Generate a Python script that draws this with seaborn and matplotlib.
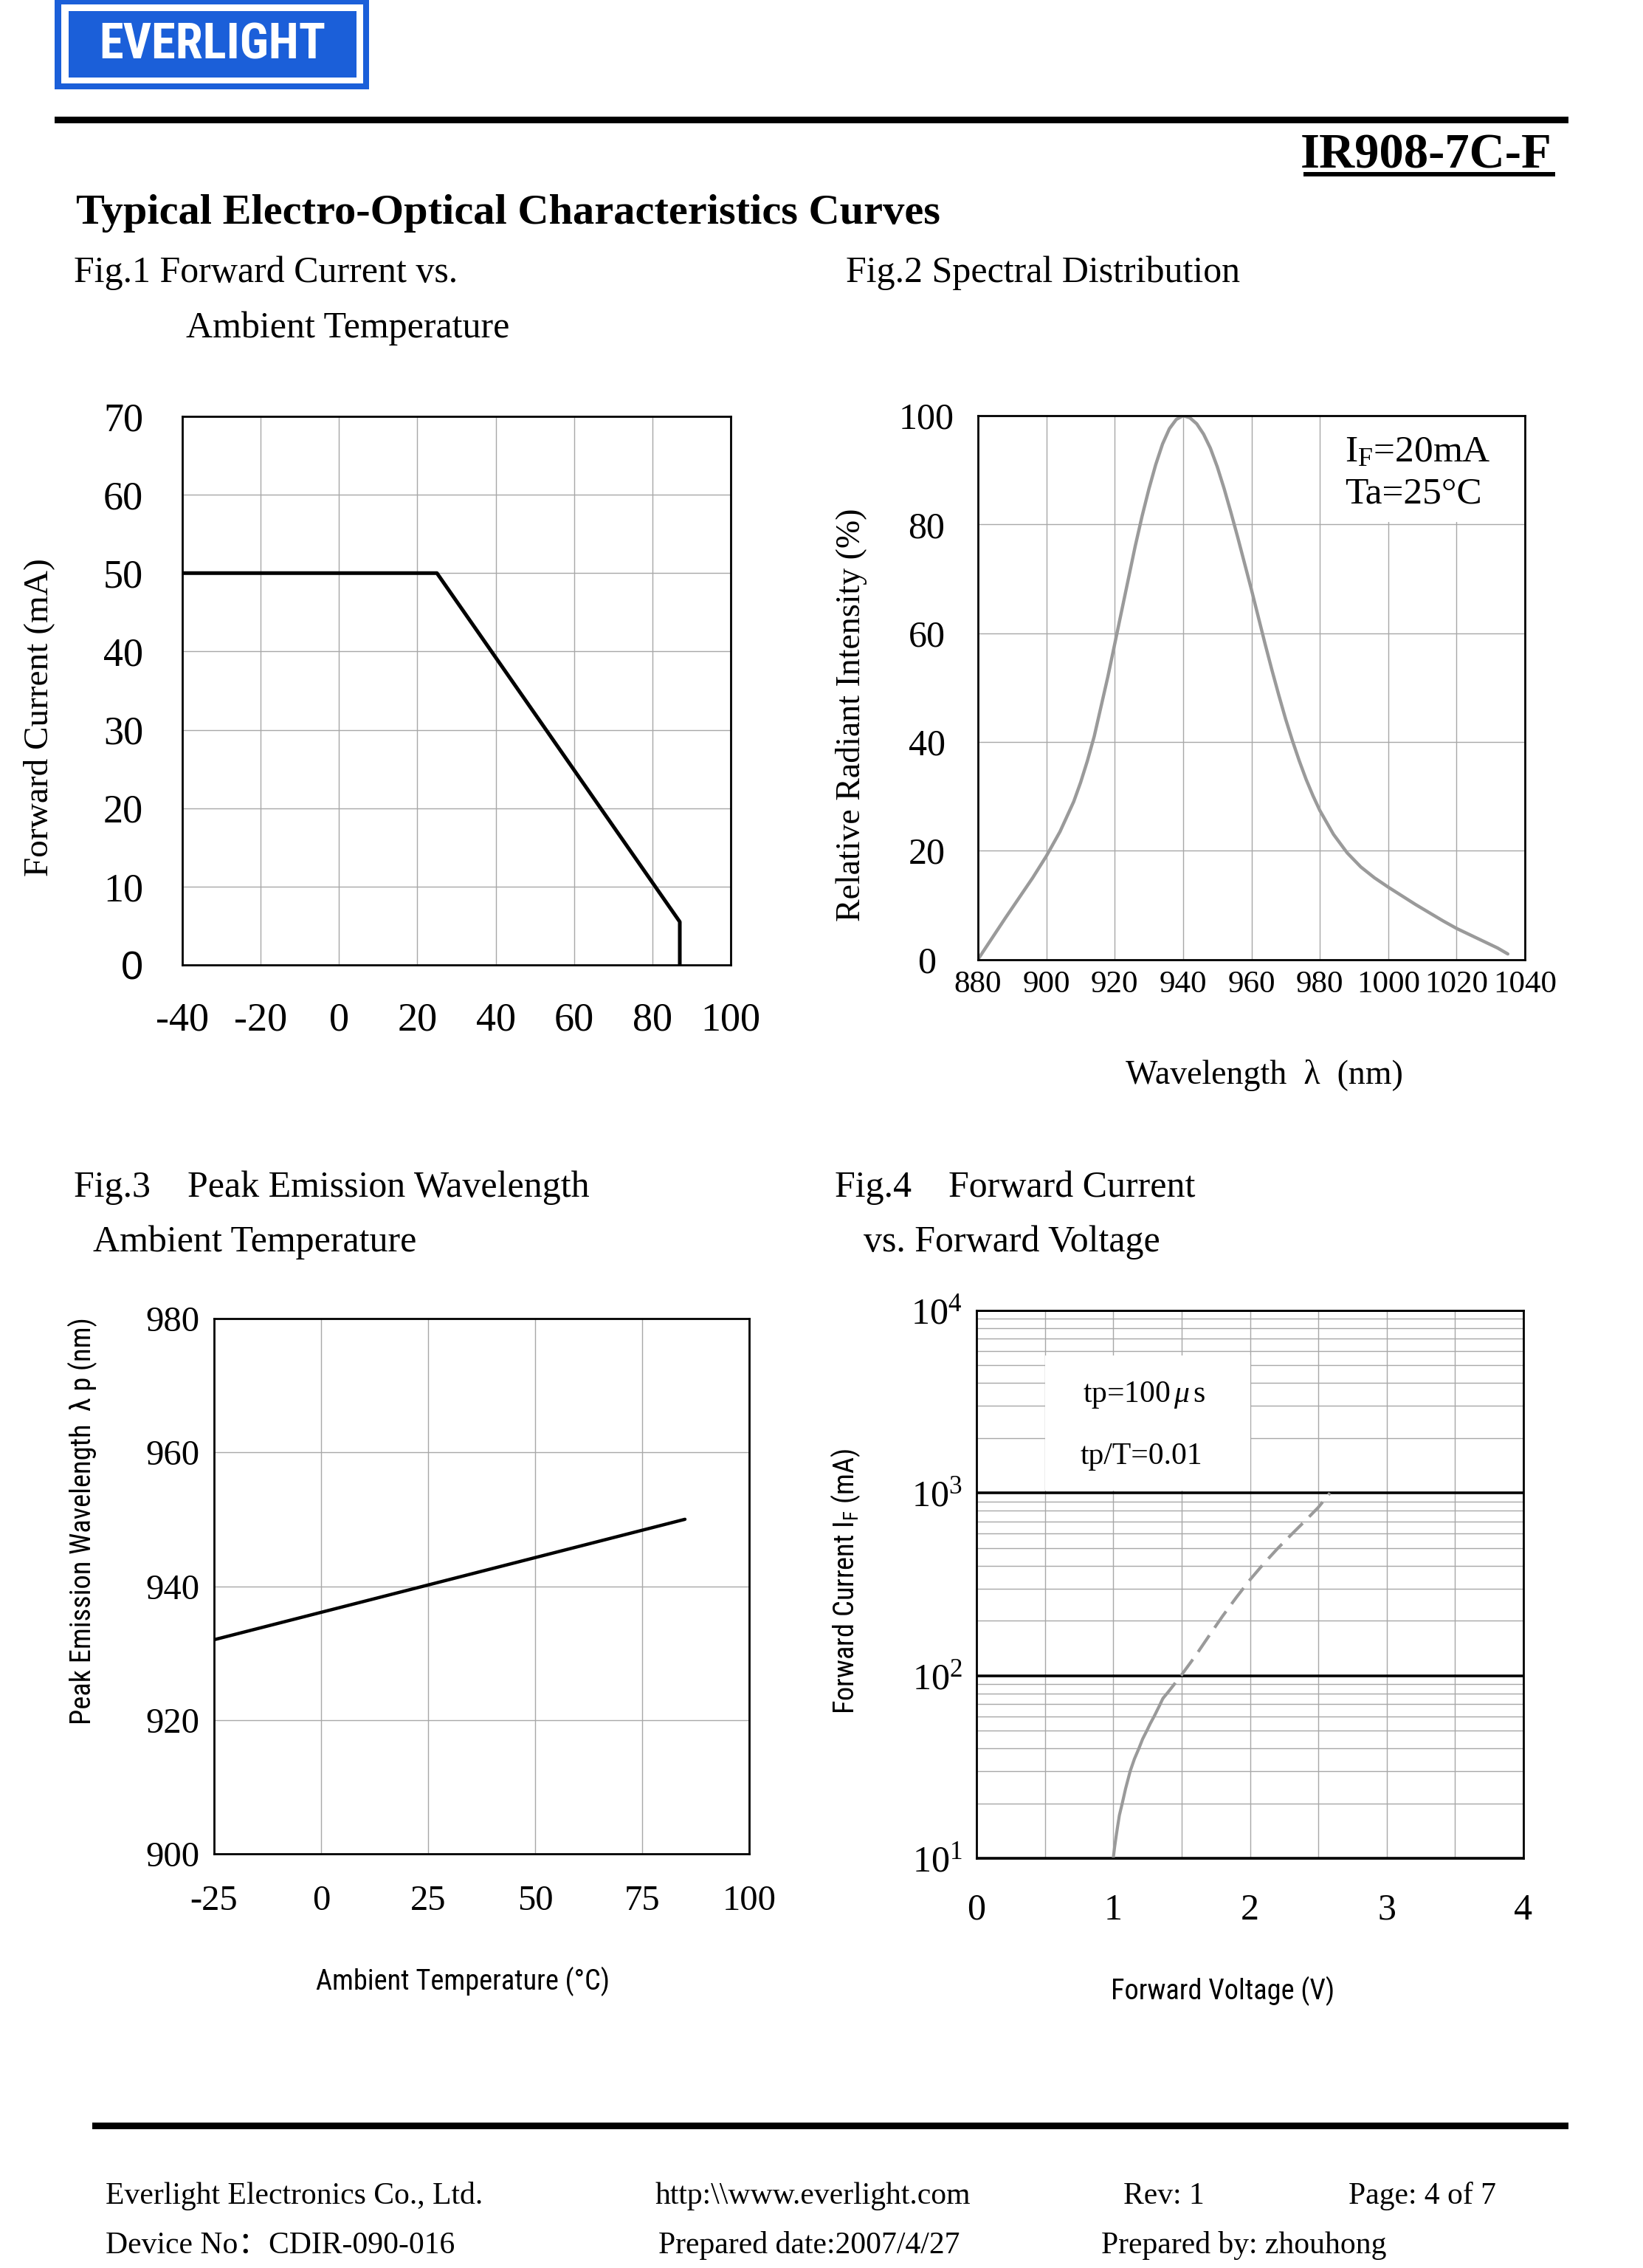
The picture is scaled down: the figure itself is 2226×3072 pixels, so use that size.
import matplotlib
matplotlib.use("Agg")
import matplotlib.pyplot as plt
import matplotlib.font_manager as fm
from matplotlib.patches import Rectangle
from matplotlib.ticker import MultipleLocator, LogLocator, NullFormatter
import seaborn as sns

# Fig.1 forward current derating vs ambient temperature
FIG1_TEMP = [-40, 25, 87, 87]
FIG1_CURRENT = [50, 50, 5.5, 0]

# Fig.2 spectral distribution (IF=20mA, Ta=25C)
FIG2_WAVELENGTH = [880, 884, 888, 892, 896, 900, 904, 908, 910, 912, 914, 916, 918,
                   920, 922, 924, 926, 928, 930, 932, 934, 936, 938, 940, 942, 944,
                   946, 948, 950, 952, 954, 956, 958, 960, 962, 964, 966, 968, 970,
                   972, 974, 976, 978, 980, 984, 988, 992, 996, 1000, 1004, 1008,
                   1012, 1016, 1020, 1024, 1028, 1032, 1035]
FIG2_INTENSITY = [0, 3.8, 7.6, 11.3, 15, 19, 23.5, 29, 32.5, 36.5, 41, 46.5, 52,
                  58, 64, 70, 76, 81.5, 86.5, 91, 94.8, 97.6, 99.3, 100, 99.6, 98.5,
                  96.6, 94, 90.6, 86.6, 82.2, 77.6, 72.8, 68, 63, 58, 53.2, 48.6, 44.2,
                  40.2, 36.5, 33.1, 30.1, 27.4, 23, 19.6, 17, 15, 13.3, 11.7, 10.1,
                  8.6, 7.1, 5.7, 4.5, 3.3, 2.1, 1.0]

# Fig.3 peak emission wavelength vs ambient temperature
FIG3_TEMP = [-25, 85]
FIG3_PEAK = [932, 950]

# Fig.4 forward current vs forward voltage (solid part, dashed part)
FIG4_V_SOLID = [1.0, 1.01, 1.02, 1.03, 1.045, 1.066, 1.09, 1.124, 1.155, 1.188,
                1.215, 1.246, 1.27, 1.30, 1.336, 1.363]
FIG4_I_SOLID = [10, 11.5, 13, 14.6, 17.2, 20, 24, 30, 35, 40, 45, 50, 54.5, 60, 68, 75]
FIG4_V_DASH = [1.363, 1.4, 1.5, 1.6, 1.7, 1.8, 1.9, 2.0, 2.1, 2.2, 2.3, 2.4, 2.5, 2.585]
FIG4_I_DASH = [75, 81, 101, 128, 165, 212, 268, 335, 410, 495, 590, 700, 835, 1000]

W, H = 2226, 3072
LOGO_BLUE = "#1b5fd9"
GRID = "#a8a8a8"
CURVE_GRAY = "#9a9a9a"

sns.set_theme(style="white")
names = {f.name for f in fm.fontManager.ttflist}
if "Liberation Sans Narrow" in names:
    NARROW, NARROW_SIZE = "Liberation Sans Narrow", 15
elif "Roboto Condensed" in names:
    NARROW, NARROW_SIZE = "Roboto Condensed", 13.8
else:
    NARROW, NARROW_SIZE = "Liberation Sans", 12.4
SANS = [NARROW, "DejaVu Sans"]
SERIF = ["Liberation Serif", "DejaVu Serif"]
plt.rcParams["font.family"] = SERIF
plt.rcParams["axes.unicode_minus"] = False
plt.rcParams["mathtext.fontset"] = "custom"
plt.rcParams["mathtext.rm"] = "Liberation Serif"
plt.rcParams["mathtext.it"] = "Liberation Serif:italic"
plt.rcParams["mathtext.bf"] = "Liberation Serif:bold"
for k in ["text.color", "axes.labelcolor", "xtick.color", "ytick.color"]:
    plt.rcParams[k] = "black"

fig = plt.figure(figsize=(W / 200, H / 200), dpi=200, facecolor="white")


def fx(px):
    return px / W


def fy(py):
    return 1 - py / H


def add_axes(left, top, right, bottom):
    return fig.add_axes([fx(left), fy(bottom), (right - left) / W, (bottom - top) / H])


def ftext(x, y, s, size, **kw):
    kw.setdefault("family", SERIF)
    fig.text(fx(x), fy(y), s, fontsize=size, va="baseline", ha=kw.pop("ha", "left"), **kw)


def frect(x0, y0, x1, y1, color):
    fig.add_artist(Rectangle((fx(x0), fy(y1)), (x1 - x0) / W, (y1 - y0) / H,
                             transform=fig.transFigure, color=color, lw=0))


def style_axes(ax):
    for s in ax.spines.values():
        s.set_visible(True)
        s.set_color("black")
        s.set_linewidth(1.0)
    ax.set_axisbelow(True)
    ax.tick_params(which="both", length=0)
    ax.set_xlabel("")
    ax.set_ylabel("")


# ---------------- header ----------------
frect(74, 0, 500, 121, LOGO_BLUE)
frect(83, 6, 492, 113, "white")
frect(93, 15, 483, 105, LOGO_BLUE)
logo_font = NARROW if NARROW != "Liberation Sans" else "DejaVu Sans"
fig.text(fx(288), fy(61), "EVERLIGHT", color="white", family=logo_font,
         fontweight="bold", fontsize=19 if logo_font == "DejaVu Sans" else 24,
         ha="center", va="center")

frect(74, 158, 2125, 167, "black")
ftext(2103, 228, "IR908-7C-F", 24, fontweight="bold", ha="right")
frect(1766, 233, 2107, 239, "black")

ftext(103, 303, "Typical Electro-Optical Characteristics Curves", 21, fontweight="bold")
ftext(100, 382, "Fig.1 Forward Current vs.", 18)
ftext(252, 457, "Ambient Temperature", 18)
ftext(1146, 382, "Fig.2 Spectral Distribution", 18)
ftext(100, 1621, "Fig.3    Peak Emission Wavelength", 18)
ftext(126, 1695, "Ambient Temperature", 18)
ftext(1131, 1621, "Fig.4    Forward Current", 18)
ftext(1170, 1695, "vs. Forward Voltage", 18)

# ---------------- Fig.1 ----------------
ax1 = add_axes(247, 564, 990, 1307)
sns.lineplot(x=FIG1_TEMP, y=FIG1_CURRENT, ax=ax1, color="black", linewidth=1.8,
             estimator=None, sort=False)
style_axes(ax1)
ax1.set_xlim(-40, 100)
ax1.set_ylim(0, 70)
ax1.set_xticks(range(-40, 101, 20))
ax1.set_yticks(range(0, 71, 10))
ax1.grid(True, color=GRID, linewidth=0.5)
ax1.tick_params(axis="x", labelsize=19.5, pad=18)
ax1.tick_params(axis="y", labelsize=19.5, pad=19)
ax1.get_yticklabels()[0].set_family("Liberation Sans")
ax1.set_ylabel("Forward Current (mA)", fontsize=17, va="center")
ax1.yaxis.set_label_coords(-0.261, 0.452)

# ---------------- Fig.2 ----------------
ax2 = add_axes(1325, 563, 2066, 1299.5)
style_axes(ax2)
ax2.set_xlim(880, 1040)
ax2.set_ylim(0, 100)
ax2.set_xticks(range(880, 1041, 20))
ax2.set_yticks(range(0, 101, 20))
ax2.grid(True, color=GRID, linewidth=0.5)
ax2.add_patch(Rectangle((0.69, 0.805), 0.31, 0.195, transform=ax2.transAxes,
                        color="white", lw=0, zorder=1.5))
sns.lineplot(x=FIG2_WAVELENGTH, y=FIG2_INTENSITY, ax=ax2, color=CURVE_GRAY,
             linewidth=1.6, estimator=None, sort=False)
style_axes(ax2)
ax2.tick_params(axis="x", labelsize=15.5, pad=5.5)
ax2.tick_params(axis="y", labelsize=18, pad=25)
for lab in ax2.get_yticklabels():
    lab.set_ha("center")
ax2.text(987.3, 91.6, r"I$\mathregular{_F}$=20mA", fontsize=18.5, va="baseline",
         ha="left", zorder=3)
ax2.text(987.3, 83.85, "Ta=25°C", fontsize=18.5, va="baseline", ha="left", zorder=3)
ax2.set_ylabel("Relative Radiant Intensity (%)", fontsize=16.5, va="center")
ax2.yaxis.set_label_coords(-0.231, 0.450)
ax2.set_xlabel("Wavelength  λ  (nm)", fontsize=16.5, va="center")
ax2.xaxis.set_label_coords(0.524, -0.2125)

# ---------------- Fig.3 ----------------
ax3 = add_axes(290, 1786, 1015, 2511)
sns.lineplot(x=FIG3_TEMP, y=FIG3_PEAK, ax=ax3, color="black", linewidth=1.6,
             estimator=None, sort=False)
style_axes(ax3)
ax3.set_xlim(-25, 100)
ax3.set_ylim(900, 980)
ax3.set_xticks(range(-25, 101, 25))
ax3.set_yticks(range(900, 981, 20))
ax3.grid(True, color=GRID, linewidth=0.5)
ax3.tick_params(axis="x", labelsize=17.5, pad=15)
ax3.tick_params(axis="y", labelsize=17.5, pad=7)
ax3.set_ylabel("Peak Emission Wavelength  λ p (nm)", fontsize=NARROW_SIZE,
               va="center", family=SANS)
ax3.yaxis.set_label_coords(-0.245, 0.622)
ax3.set_xlabel("Ambient Temperature (°C)", fontsize=NARROW_SIZE, va="center",
               family=SANS)
ax3.xaxis.set_label_coords(0.465, -0.238)

# ---------------- Fig.4 ----------------
ax4 = add_axes(1323, 1775, 2064, 2517)
ax4.set_yscale("log")
style_axes(ax4)
ax4.set_xlim(0, 4)
ax4.set_ylim(10, 1e4)
ax4.set_xticks([0, 1, 2, 3, 4])
ax4.xaxis.set_minor_locator(MultipleLocator(0.5))
ax4.set_yticks([10, 100, 1000, 10000],
               labels=[r"$10^{1}$", r"$10^{2}$", r"$10^{3}$", r"$10^{4}$"])
ax4.yaxis.set_minor_locator(LogLocator(base=10, subs=range(2, 10)))
ax4.yaxis.set_minor_formatter(NullFormatter())
ax4.grid(True, axis="x", which="both", color=GRID, linewidth=0.5)
ax4.grid(True, axis="y", which="minor", color=GRID, linewidth=0.5)
ax4.grid(True, axis="y", which="major", color="black", linewidth=1.3)
ax4.add_patch(Rectangle((0.5, 1030), 1.5, 10 ** 3.754 - 1030, color="white",
                        lw=0, zorder=1.5))
sns.lineplot(x=FIG4_V_SOLID, y=FIG4_I_SOLID, ax=ax4, color=CURVE_GRAY,
             linewidth=1.5, estimator=None, sort=False)
sns.lineplot(x=FIG4_V_DASH, y=FIG4_I_DASH, ax=ax4, color=CURVE_GRAY,
             linewidth=1.5, estimator=None, sort=False)
ax4.lines[-1].set_dashes((6.5, 3))
style_axes(ax4)
ax4.tick_params(axis="x", labelsize=18, pad=17)
ax4.tick_params(axis="y", labelsize=18, pad=7)
ax4.text(1.223, 10 ** 3.536, r"tp=100$\,\mu\,$s", fontsize=15, ha="center",
         va="center", zorder=3)
ax4.text(1.204, 10 ** 3.20, "tp/T=0.01", fontsize=15, ha="center", va="center",
         zorder=3)
ax4.set_ylabel(r"Forward Current I$\mathregular{_F}$ (mA)", fontsize=NARROW_SIZE,
               va="center", family=SANS)
ax4.yaxis.set_label_coords(-0.24, 0.505)
ax4.set_xlabel("Forward Voltage (V)", fontsize=NARROW_SIZE, va="center", family=SANS)
ax4.xaxis.set_label_coords(0.45, -0.243)

# ---------------- footer ----------------
frect(125, 2875, 2125, 2884, "black")
FOOT = ["Liberation Serif", "Noto Sans CJK SC"]
ftext(143, 2985, "Everlight Electronics Co., Ltd.", 15, family=FOOT)
ftext(888, 2985, "http:\\\\www.everlight.com", 15, family=FOOT)
ftext(1522, 2985, "Rev: 1", 15, family=FOOT)
ftext(1827, 2985, "Page: 4 of 7", 15, family=FOOT)
ftext(143, 3052, "Device No：CDIR-090-016", 15, family=FOOT)
ftext(892, 3052, "Prepared date:2007/4/27", 15, family=FOOT)
ftext(1492, 3052, "Prepared by: zhouhong", 15, family=FOOT)

fig.savefig("out.png", dpi=200, facecolor="white")
